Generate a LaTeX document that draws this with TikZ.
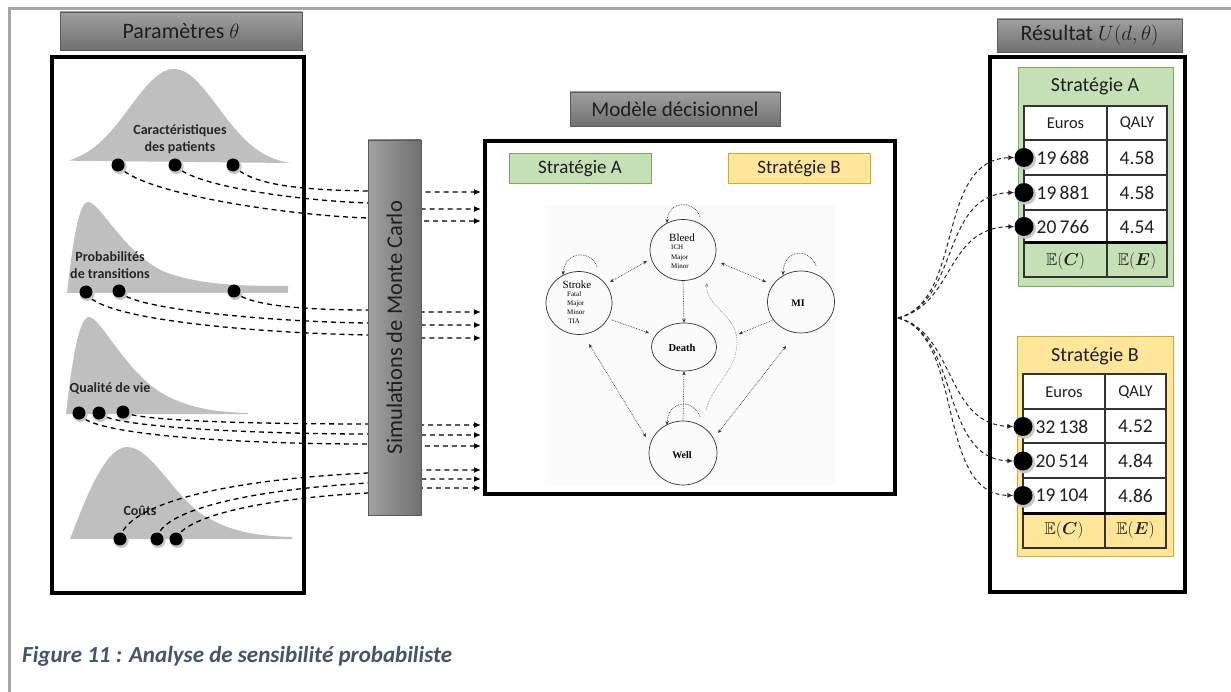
\documentclass[tikz,border=0pt]{standalone}
\usepackage{fontspec}
\usepackage{amssymb,bm}
\setmainfont{Carlito}
\newfontfamily\stfont{Liberation Serif}
\usetikzlibrary{arrows.meta,shapes.geometric}
\definecolor{bordergray}{RGB}{166,166,166}
\definecolor{distgray}{RGB}{191,191,191}
\definecolor{hdrtop}{RGB}{160,160,160}
\definecolor{hdrbot}{RGB}{112,112,112}
\definecolor{hdrline}{RGB}{90,90,90}
\definecolor{gfill}{RGB}{197,224,180}
\definecolor{gline}{RGB}{120,172,90}
\definecolor{yfill}{RGB}{255,230,153}
\definecolor{yline}{RGB}{214,168,40}
\definecolor{capcol}{RGB}{68,84,106}
\tikzset{
  hdr/.style={draw=hdrline, line width=0.8pt, top color=hdrtop, bottom color=hdrbot, inner sep=0pt,
    font=\fontsize{22}{24}\selectfont, text=black!88},
  bigbox/.style={draw=black, line width=4pt, fill=white, inner sep=0pt},
  lbl/.style={font=\bfseries\fontsize{14}{17}\selectfont, text=black!85, align=center},
  pdot/.style={circle, fill=black, inner sep=0pt, minimum size=13pt},
  bdot/.style={circle, fill=black, inner sep=0pt, minimum size=19pt},
  halo/.style={circle, fill=black!22, inner sep=0pt},
  flow/.style={dash pattern=on 5pt off 4pt, line width=1.3pt, -{Latex[length=7pt,width=6pt]}},
  fan/.style={dash pattern=on 4pt off 3pt, line width=1pt, black!85, -{Latex[length=6pt,width=5pt]}},
  stratbox/.style={inner sep=0pt, line width=1pt, font=\fontsize{19}{22}\selectfont, text=black!88},
  st/.style={draw=black!80, ellipse, line width=0.7pt, inner sep=0pt},
  sedge/.style={densely dotted, line width=0.7pt, black!80, {Stealth[length=4pt,width=3.5pt]}-{Stealth[length=4pt,width=3.5pt]}},
  sarr/.style={densely dotted, line width=0.7pt, black!80, -{Stealth[length=4pt,width=3.5pt]}},
  sbig/.style={font=\stfont\fontsize{11}{12}\selectfont},
  ssmall/.style={font=\stfont\fontsize{7}{9.3}\selectfont, align=left, inner sep=0pt},
  cellt/.style={font=\fontsize{16.5}{18}\selectfont, text=black!88},
  cellv/.style={font=\fontsize{19.5}{22}\selectfont, text=black!88},
  cellm/.style={font=\fontsize{17}{19}\selectfont, text=black!88},
}
\begin{document}
\begin{tikzpicture}[x=1pt,y=-1pt]
\useasboundingbox (0,0) rectangle (1231,692);
\fill[white] (0,0) rectangle (1231,692);
\draw[bordergray, line width=3pt] (9,692) -- (9,8.5) -- (1231,8.5);

% headers
\node[hdr, minimum width=242pt, minimum height=38pt] (hpar) at (181,31) {Paramètres $\theta$};
\node[hdr, minimum width=210pt, minimum height=34pt, font=\fontsize{21}{24}\selectfont] (hmod) at (675,109) {Modèle décisionnel};
\node[hdr, minimum width=185pt, minimum height=33pt] (hres) at (1089.5,35.5) {Résultat $U(d,\theta)$};

% big boxes
\node[bigbox, minimum width=252pt, minimum height=536pt] (parbox) at (178,325) {};
\node[bigbox, minimum width=410pt, minimum height=353pt] (modbox) at (690,317.5) {};
\node[bigbox, minimum width=195pt, minimum height=535pt] (resbox) at (1087.5,324.5) {};

% distributions
\fill[distgray] plot[domain=68:290, samples=90] (\x, {166-97*exp(-((\x-174)/44)^2/2)}) -- cycle;
\fill[distgray] (67,293) .. controls (72,250) and (78,202) .. (88,202) .. controls (100,202) and (125,255) .. (165,272) .. controls (200,285) and (240,286) .. (288,286) -- (288,293) -- cycle;
\fill[distgray] (66,414) .. controls (71,370) and (78,317) .. (89,317) .. controls (100,317) and (125,370) .. (160,392) .. controls (190,410) and (220,412) .. (248,413) -- (248,414) -- cycle;
\fill[distgray] (70,539) .. controls (85,500) and (105,447) .. (127,447) .. controls (150,447) and (170,490) .. (200,513) .. controls (230,533) and (260,536) .. (292,537) -- (292,539) -- cycle;

\node[lbl] (t1) at (180,139) {Caractéristiques\\des patients};
\node[lbl] (t2) at (110,265) {Probabilités\\de transitions};
\node[lbl] (t3) at (110,388) {Qualité de vie};
\node[lbl] (t4) at (140,511) {Coûts};

% dots (placed as coordinates first)
\coordinate (d11) at (118,165); \coordinate (d12) at (175,165); \coordinate (d13) at (233,165);
\coordinate (d21) at (86,292); \coordinate (d22) at (119,291); \coordinate (d23) at (234,291);
\coordinate (d31) at (79,413); \coordinate (d32) at (99,413); \coordinate (d33) at (123,412);
\coordinate (d41) at (120,539); \coordinate (d42) at (157,539); \coordinate (d43) at (176,539);

\coordinate (m11) at (481,221); \coordinate (m12) at (481,209); \coordinate (m13) at (481,192);
\coordinate (m21) at (481,338); \coordinate (m22) at (481,325); \coordinate (m23) at (481,312);
\coordinate (m31) at (481,446); \coordinate (m32) at (481,435); \coordinate (m33) at (481,425);
\coordinate (m41) at (481,470); \coordinate (m42) at (481,479); \coordinate (m43) at (481,488);

\draw[flow] (d13) .. controls (250,185) and (300,190) .. (368,191) -- (421,192) -- (m13);
\draw[flow] (d12) .. controls (190,185) and (290,200) .. (368,203) -- (421,209) -- (m12);
\draw[flow] (d11) .. controls (135,192) and (280,215) .. (368,218) -- (421,221) -- (m11);
\draw[flow] (d23) .. controls (245,305) and (300,310) .. (368,310) -- (421,312) -- (m23);
\draw[flow] (d22) .. controls (130,310) and (280,322) .. (368,323) -- (421,325) -- (m22);
\draw[flow] (d21) .. controls (95,320) and (260,333) .. (368,335) -- (421,338) -- (m21);
\draw[flow] (d33) .. controls (140,422) and (280,424) .. (368,424) -- (421,425) -- (m33);
\draw[flow] (d32) .. controls (110,428) and (270,434) .. (368,434) -- (421,435) -- (m32);
\draw[flow] (d31) .. controls (85,436) and (250,444) .. (368,444) -- (421,446) -- (m31);
\draw[flow] (d41) .. controls (125,505) and (220,480) .. (368,473) -- (421,470) -- (m41);
\draw[flow] (d42) .. controls (160,510) and (250,490) .. (368,483) -- (421,479) -- (m42);
\draw[flow] (d43) .. controls (185,515) and (270,498) .. (368,493) -- (421,488) -- (m43);

\foreach \d in {d11,d12,d13,d21,d22,d23,d31,d32,d33,d41,d42,d43}{
  \node[halo, minimum size=15pt] at ([shift={(1.2,1.5)}]\d) {};
  \node[pdot] at (\d) {};
}

% Monte Carlo box
\node[draw=hdrline, line width=0.8pt, left color=hdrtop, right color=hdrbot, minimum width=53pt, minimum height=375pt, inner sep=0pt] (mc) at (394.5,327.5) {};
\node[rotate=90, font=\fontsize{22.5}{24}\selectfont, text=black!88] (mct) at (mc.center) {Simulations de Monte Carlo};

% model content
\node[stratbox, draw=gline, fill=gfill, minimum width=142pt, minimum height=30pt] (sa) at (580,169) {Stratégie A};
\node[stratbox, draw=yline, fill=yfill, minimum width=142pt, minimum height=30pt] (sb) at (799,169) {Stratégie B};
\fill[black!1.5] (545,205) rectangle (835,485);

\node[st, minimum width=66pt, minimum height=61pt] (bleed) at (683,250) {};
\node[st, minimum width=66pt, minimum height=63pt] (stroke) at (579,303) {};
\node[st, minimum width=67pt, minimum height=62pt] (mi) at (801,302) {};
\node[st, minimum width=65pt, minimum height=48pt] (death) at (684,347) {};
\node[st, minimum width=68pt, minimum height=64pt] (well) at (683,453) {};

\node[sbig] (bleedt) at (682,238) {Bleed};
\node[ssmall, anchor=north west] (bleeds) at (671,245) {ICH\\Major\\Minor};
\node[sbig] (stroket) at (577,285) {Stroke};
\node[ssmall, anchor=north west] (strokes) at (567,291) {Fatal\\Major\\Minor\\\,TIA};
\node[font=\stfont\bfseries\fontsize{10}{12}\selectfont] (mit) at (798,303) {MI};
\node[font=\stfont\bfseries\fontsize{10.5}{12}\selectfont] (deatht) at (682,348) {Death};
\node[font=\stfont\bfseries\fontsize{10}{12}\selectfont] (wellt) at (682,455) {Well};

\draw[sedge] (610,282) -- (647,261);
\draw[sedge] (721,263) -- (766,282);
\draw[sarr] (bleed.south) -- (death.north);
\draw[sarr] (612,320) -- (649,333);
\draw[sarr] (773,320) -- (739,334);
\draw[sarr] (well.north) -- (death.south);
\draw[sedge] (589,344) -- (646,437);
\draw[sedge] (786,346) -- (718,433);
\draw[densely dotted, line width=0.7pt, black!45, -{Stealth[length=4pt,width=3.5pt]}] (706,410) .. controls (712,385) and (738,370) .. (737,340) .. controls (736,315) and (705,305) .. (707,283);

% self loops
\draw[sarr] (700,217) .. controls (695,200) and (668,200) .. (667,223);
\draw[sarr] (597,267) .. controls (592,250) and (565,250) .. (563,275);
\draw[sarr] (816,266) .. controls (810,248) and (784,248) .. (783,275);
\draw[sarr] (700,417) .. controls (695,399) and (668,399) .. (667,425);

% result panels
\fill[gfill] (1018,68) rectangle (1173,287);
\draw[gline, line width=1pt] (1018,68) rectangle (1173,287);
\node[font=\fontsize{20}{22}\selectfont, text=black!88] (rta) at (1095,86) {Stratégie A};
\fill[white] (1024,106) rectangle (1167,243);
\draw[black!80, line width=1.3pt] (1024,106) rectangle (1167,277);
\draw[black!80, line width=1.3pt] (1107,106) -- (1107,277);
\foreach \y in {140,175,210} \draw[black!80, line width=1.3pt] (1024,\y) -- (1167,\y);
\draw[black, line width=3pt] (1024,243) -- (1167,243);
\node[cellt] at (1065.5,123) {Euros};
\node[cellt] at (1137,123) {QALY};
\node[cellv] at (1063,158) {19\,688};
\node[cellv] at (1137,158) {4.58};
\node[cellv] at (1063,193) {19\,881};
\node[cellv] at (1137,193) {4.58};
\node[cellv] at (1063,227) {20\,766};
\node[cellv] at (1137,227) {4.54};
\node[cellm] at (1065.5,261) {$\mathbb{E}(\bm{C})$};
\node[cellm] at (1137,261) {$\mathbb{E}(\bm{E})$};

\fill[yfill] (1017,337) rectangle (1173,556);
\draw[yline, line width=1pt] (1017,337) rectangle (1173,556);
\node[font=\fontsize{20}{22}\selectfont, text=black!88] (rtb) at (1095,356) {Stratégie B};
\fill[white] (1023,374) rectangle (1166,513);
\draw[black!80, line width=1.3pt] (1023,374) rectangle (1166,548);
\draw[black!80, line width=1.3pt] (1105,374) -- (1105,548);
\foreach \y in {409,443,478} \draw[black!80, line width=1.3pt] (1023,\y) -- (1166,\y);
\draw[black, line width=3pt] (1023,513) -- (1166,513);
\node[cellt] at (1064,392) {Euros};
\node[cellt] at (1135.5,392) {QALY};
\node[cellv] at (1062,426.5) {32\,138};
\node[cellv] at (1135.5,426.5) {4.52};
\node[cellv] at (1062,461) {20\,514};
\node[cellv] at (1135.5,461) {4.84};
\node[cellv] at (1062,495.5) {19\,104};
\node[cellv] at (1135.5,495.5) {4.86};
\node[cellm] at (1064,530.5) {$\mathbb{E}(\bm{C})$};
\node[cellm] at (1135.5,530.5) {$\mathbb{E}(\bm{E})$};

% result dots
\foreach \px/\py in {1024/157.5,1024/192.5,1024/226.5,1023/426.5,1023/461,1023/495.5}
  \node[halo, minimum size=21pt] at (\px+1.5,\py+1.8) {};
\node[bdot] (a1) at (1024,157.5) {};
\node[bdot] (a2) at (1024,192.5) {};
\node[bdot] (a3) at (1024,226.5) {};
\node[bdot] (b1) at (1023,426.5) {};
\node[bdot] (b2) at (1023,461) {};
\node[bdot] (b3) at (1023,495.5) {};

% fan
\coordinate (src) at (898,318);
\draw[fan] (src) .. controls (965,300) and (935,160) .. (a1.west);
\draw[fan] (src) .. controls (960,302) and (940,195) .. (a2.west);
\draw[fan] (src) .. controls (955,304) and (945,228) .. (a3.west);
\draw[fan] (src) .. controls (955,332) and (945,424) .. (b1.west);
\draw[fan] (src) .. controls (960,334) and (940,459) .. (b2.west);
\draw[fan] (src) .. controls (965,336) and (935,494) .. (b3.west);

% caption
\node[anchor=base west, inner sep=0pt, font=\bfseries\itshape\fontsize{23}{26}\selectfont, text=capcol] (cap) at (22,662) {Figure 11 : Analyse de sensibilité probabiliste};
\end{tikzpicture}
\end{document}
